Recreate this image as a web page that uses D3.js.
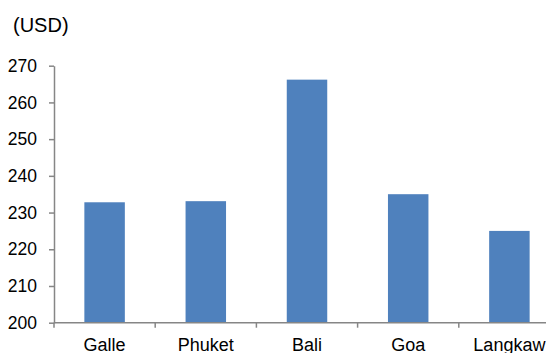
<!DOCTYPE html>
<html>
<head>
<meta charset="utf-8">
<script src="https://cdn.jsdelivr.net/npm/d3@7"></script>
<style>
  html, body { margin: 0; padding: 0; background: #fff; }
  svg { display: block; font-family: "Liberation Sans", Arial, sans-serif; }
</style>
</head>
<body>
<svg id="chart" width="546" height="353"></svg>
<script>
// Average price per destination (USD)
const destinations = ["Galle", "Phuket", "Bali", "Goa", "Langkaw"];
const prices = [232.8, 233.1, 266.2, 235.0, 225.0];
const yTicks = [200, 210, 220, 230, 240, 250, 260, 270];
const unitLabel = "(USD)";

const svg = d3.select("#chart");
const plotLeft = 54, plotBottom = 322.7, plotTop = 65.7;
const step = 101.2;

const x = d3.scaleBand()
  .domain(destinations)
  .range([plotLeft, plotLeft + step * destinations.length])
  .paddingInner(0.6)
  .paddingOuter(0.3);

const y = d3.scaleLinear().domain([200, 270]).range([plotBottom, plotTop]);

const axisColor = "#868686";

// bars
svg.append("g")
  .selectAll("rect")
  .data(destinations)
  .join("rect")
  .attr("x", d => x(d))
  .attr("width", x.bandwidth())
  .attr("y", (d, i) => y(prices[i]))
  .attr("height", (d, i) => y(200) - y(prices[i]))
  .attr("fill", "#4f81bd");

// y axis
const yAxis = svg.append("g")
  .attr("transform", `translate(${plotLeft},0)`)
  .call(d3.axisLeft(y).tickValues(yTicks).tickSize(5).tickPadding(12).tickSizeOuter(0));
yAxis.select(".domain").attr("stroke", axisColor).attr("stroke-width", 1.5);
yAxis.selectAll(".tick line").attr("stroke", axisColor).attr("stroke-width", 1.5);
yAxis.selectAll(".tick text")
  .attr("fill", "#000")
  .style("font-size", "17.5px");

// x axis: tick marks at category boundaries
const xAxisG = svg.append("g").attr("transform", `translate(0,${plotBottom})`);
const xRange = x.range();
xAxisG.append("line")
  .attr("x1", xRange[0]).attr("x2", xRange[1])
  .attr("y1", 0).attr("y2", 0)
  .attr("stroke", axisColor).attr("stroke-width", 1.5);
const boundaries = d3.range(destinations.length + 1).map(i => xRange[0] + i * x.step());
xAxisG.selectAll("line.tick")
  .data(boundaries)
  .join("line")
  .attr("class", "tick")
  .attr("x1", d => d).attr("x2", d => d)
  .attr("y1", 0).attr("y2", 5)
  .attr("stroke", axisColor).attr("stroke-width", 1.5);
xAxisG.selectAll("text")
  .data(destinations)
  .join("text")
  .attr("x", d => x(d) + x.bandwidth() / 2)
  .attr("y", 28)
  .attr("text-anchor", "middle")
  .style("font-size", "18px")
  .attr("fill", "#000")
  .text(d => d);

// unit label
svg.append("text")
  .attr("x", 13)
  .attr("y", 32)
  .style("font-size", "20px")
  .attr("fill", "#000")
  .text(unitLabel);
</script>
</body>
</html>
